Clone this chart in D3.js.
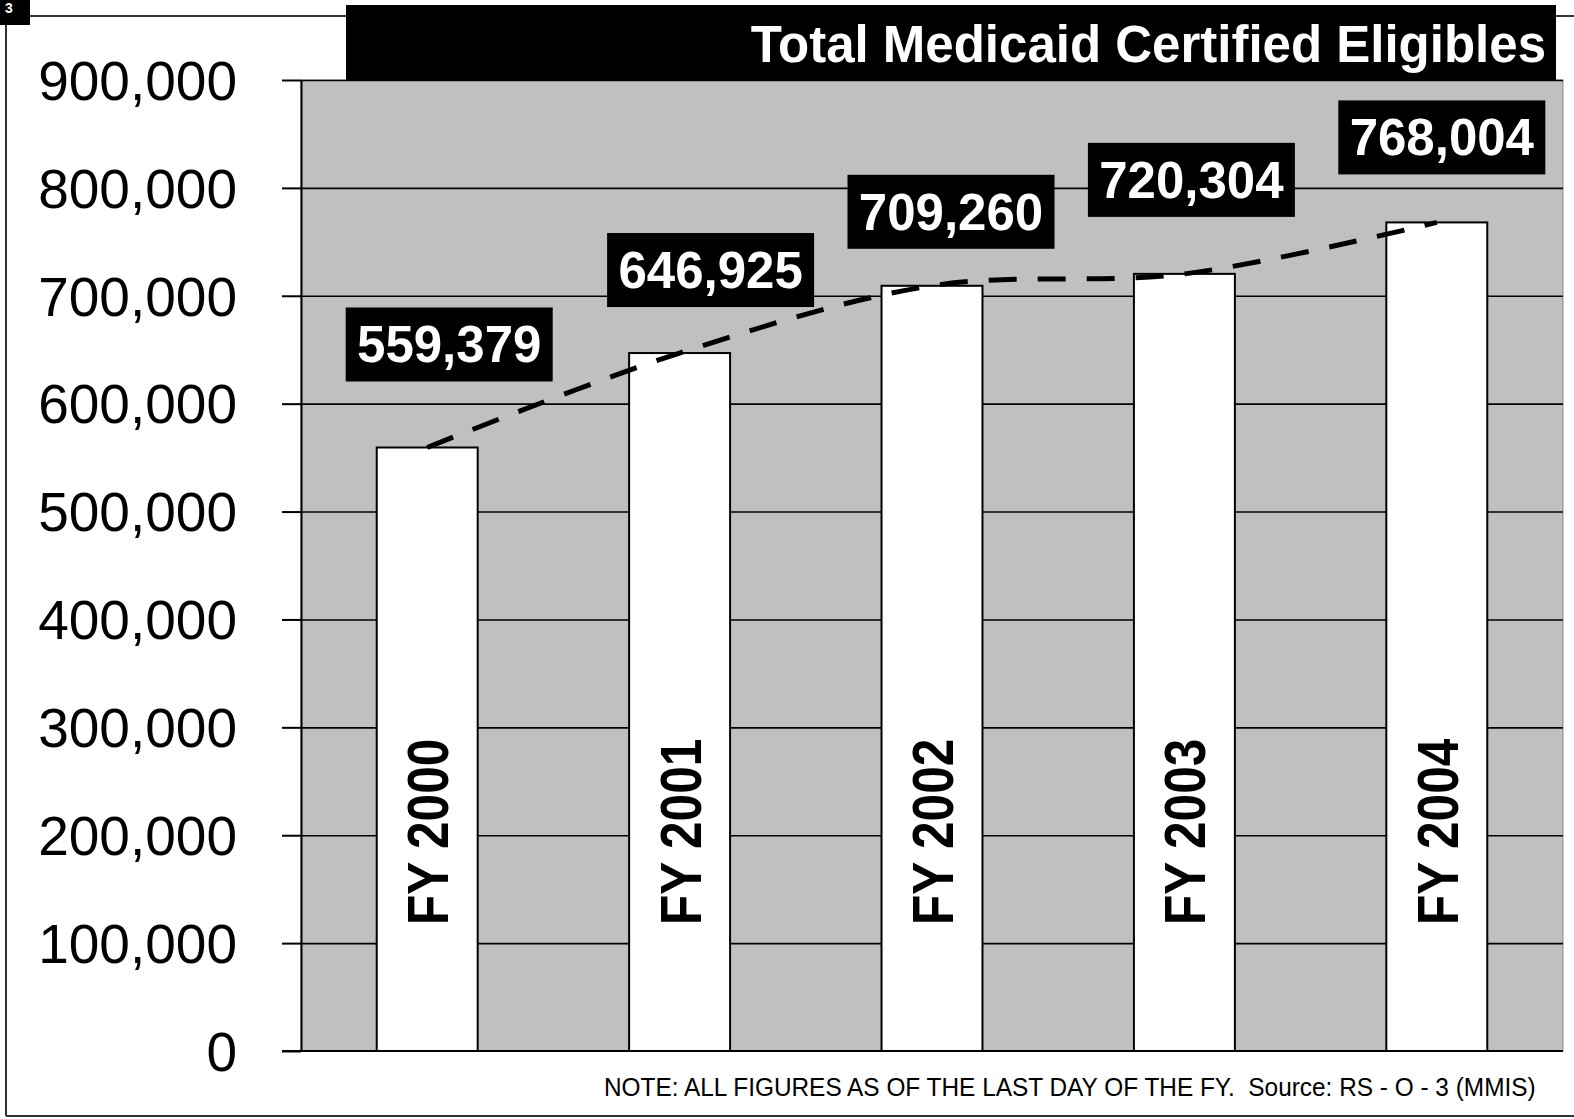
<!DOCTYPE html>
<html>
<head>
<meta charset="utf-8">
<script src="https://cdn.jsdelivr.net/npm/d3@7"></script>
<style>
  html, body { margin: 0; padding: 0; background: #fff; }
  svg { display: block; font-family: "Liberation Sans", Arial, sans-serif; }
</style>
</head>
<body>
<svg id="chart" width="1574" height="1119"></svg>
<script>
// data
var years = ['FY 2000', 'FY 2001', 'FY 2002', 'FY 2003', 'FY 2004'];
var eligibles = [559379, 646925, 709260, 720304, 768004];
var yTicks = [0, 100000, 200000, 300000, 400000, 500000, 600000, 700000, 800000, 900000];
var title = 'Total Medicaid Certified Eligibles';
var note = 'NOTE: ALL FIGURES AS OF THE LAST DAY OF THE FY.  Source: RS - O - 3 (MMIS)';

// hand placed value boxes: [dx from bar centre, lift above bar top], pixels
var labelNudge = [[22, 103], [31, 83], [19, 74], [7, 94], [5, 85]];

var svg = d3.select('#chart');

var plot = { left: 301, right: 1563, top: 80, bottom: 1051 };

var x = d3.scaleBand()
  .domain(years)
  .range([plot.left, plot.right])
  .paddingInner(0.6)
  .paddingOuter(0.3);

var y = d3.scaleLinear()
  .domain([0, 900000])
  .range([plot.bottom, plot.top]);

/**
 * Frame round the page
 */
var frame = svg.append('g')
  .attr('stroke', '#333')
  .attr('stroke-width', 2);

frame.append('line').attr('x1', 6).attr('y1', 16).attr('x2', 6).attr('y2', 1116);
frame.append('line').attr('x1', 6).attr('y1', 1116).attr('x2', 1574).attr('y2', 1116);
frame.append('line').attr('x1', 30).attr('y1', 16).attr('x2', 346).attr('y2', 16);
frame.append('line').attr('x1', 1556).attr('y1', 16).attr('x2', 1574).attr('y2', 16);

// page number tab
svg.append('rect')
  .attr('x', 0).attr('y', 0)
  .attr('width', 30).attr('height', 25)
  .attr('fill', '#000');

svg.append('text')
  .attr('x', 5).attr('y', 13)
  .attr('fill', '#fff')
  .style('font-size', '14px')
  .style('font-weight', 'bold')
  .text('3');

/**
 * Plot area
 */
svg.append('rect')
  .attr('x', plot.left)
  .attr('y', plot.top)
  .attr('width', plot.right - plot.left)
  .attr('height', plot.bottom - plot.top)
  .attr('fill', '#c0c0c0')
  .attr('stroke', '#8a8a8a')
  .attr('stroke-width', 1);

// gridlines
svg.append('g')
  .attr('class', 'grid')
  .attr('transform', 'translate(' + plot.left + ',0)')
  .call(d3.axisLeft(y)
    .tickValues(yTicks.slice(1))
    .tickSize(-(plot.right - plot.left))
    .tickFormat(''))
  .call(function (g) {
    g.select('.domain').remove();
    g.selectAll('line').attr('stroke', '#000').attr('stroke-width', 1.6);
  });

// title box
svg.append('rect')
  .attr('x', 346).attr('y', 5)
  .attr('width', 1556 - 346).attr('height', plot.top - 5)
  .attr('fill', '#000');

svg.append('text')
  .attr('x', 1546).attr('y', 62)
  .attr('text-anchor', 'end')
  .attr('fill', '#fff')
  .style('font-size', '51px')
  .style('font-weight', 'bold')
  .text(title);

/**
 * Bars
 */
svg.append('g')
  .selectAll('rect')
  .data(eligibles)
  .join('rect')
  .attr('x', function (d, i) { return x(years[i]); })
  .attr('y', function (d) { return y(d); })
  .attr('width', x.bandwidth())
  .attr('height', function (d) { return y(0) - y(d); })
  .attr('fill', '#fff')
  .attr('stroke', '#000')
  .attr('stroke-width', 2);

// year names written up the bars
svg.append('g')
  .selectAll('text')
  .data(years)
  .join('text')
  .attr('transform', function (d) {
    var cx = x(d) + x.bandwidth() / 2;
    return 'translate(' + (cx + 21) + ',' + (y(0) - 126) + ') rotate(-90) scale(1,1.14)';
  })
  .attr('text-anchor', 'start')
  .attr('fill', '#000')
  .style('font-size', '49.5px')
  .style('font-weight', 'bold')
  .text(function (d) { return d; });

/**
 * Dashed trend line over the bar tops
 */
var trend = d3.line()
  .x(function (d, i) { return x(years[i]) + x.bandwidth() / 2; })
  .y(function (d) { return y(d); })
  .curve(d3.curveCatmullRom);

svg.append('path')
  .attr('d', trend(eligibles))
  .attr('fill', 'none')
  .attr('stroke', '#000')
  .attr('stroke-width', 5)
  .attr('stroke-dasharray', '28 21');

/**
 * Axis
 */
var yAxis = svg.append('g')
  .attr('transform', 'translate(' + plot.left + ',0)')
  .call(d3.axisLeft(y)
    .tickValues(yTicks)
    .tickSize(19)
    .tickSizeOuter(0)
    .tickPadding(45)
    .tickFormat(d3.format(',')));

yAxis.select('.domain').attr('stroke', '#000').attr('stroke-width', 2);
yAxis.selectAll('.tick line').attr('stroke', '#000').attr('stroke-width', 2);
yAxis.selectAll('.tick text')
  .attr('fill', '#000')
  .attr('dy', '0.35em')
  .style('font-size', '55px')
  .style('font-family', '"Liberation Sans", Arial, sans-serif');

svg.append('line')
  .attr('x1', plot.left - 19).attr('x2', plot.right)
  .attr('y1', y(0)).attr('y2', y(0))
  .attr('stroke', '#000')
  .attr('stroke-width', 2);

/**
 * Value boxes
 */
var boxW = 207;
var boxH = 74;

var valueBox = svg.append('g')
  .selectAll('g')
  .data(eligibles)
  .join('g')
  .attr('transform', function (d, i) {
    var cx = x(years[i]) + x.bandwidth() / 2 + labelNudge[i][0];
    var cy = y(d) - labelNudge[i][1];
    return 'translate(' + cx + ',' + cy + ')';
  });

valueBox.append('rect')
  .attr('x', -boxW / 2).attr('y', -boxH / 2)
  .attr('width', boxW).attr('height', boxH)
  .attr('fill', '#000');

valueBox.append('text')
  .attr('y', 18)
  .attr('text-anchor', 'middle')
  .attr('fill', '#fff')
  .style('font-size', '51px')
  .style('font-weight', 'bold')
  .text(function (d) { return d3.format(',')(d); });

/**
 * Footnote: narrow face, so shrink the size to fit the width
 * and stretch it back up to the cap height of the original.
 */
var noteWidth = 932;
var noteSize = 26;

var noteText = svg.append('text')
  .attr('x', 0).attr('y', 0)
  .attr('fill', '#000')
  .style('white-space', 'pre')
  .style('font-size', noteSize + 'px')
  .text(note);

var natural = noteText.node().getComputedTextLength();
var fitted = noteSize * noteWidth / natural;

noteText
  .style('font-size', fitted + 'px')
  .attr('transform', 'translate(604,1096) scale(1,' + (noteSize / fitted) + ')');
</script>
</body>
</html>
